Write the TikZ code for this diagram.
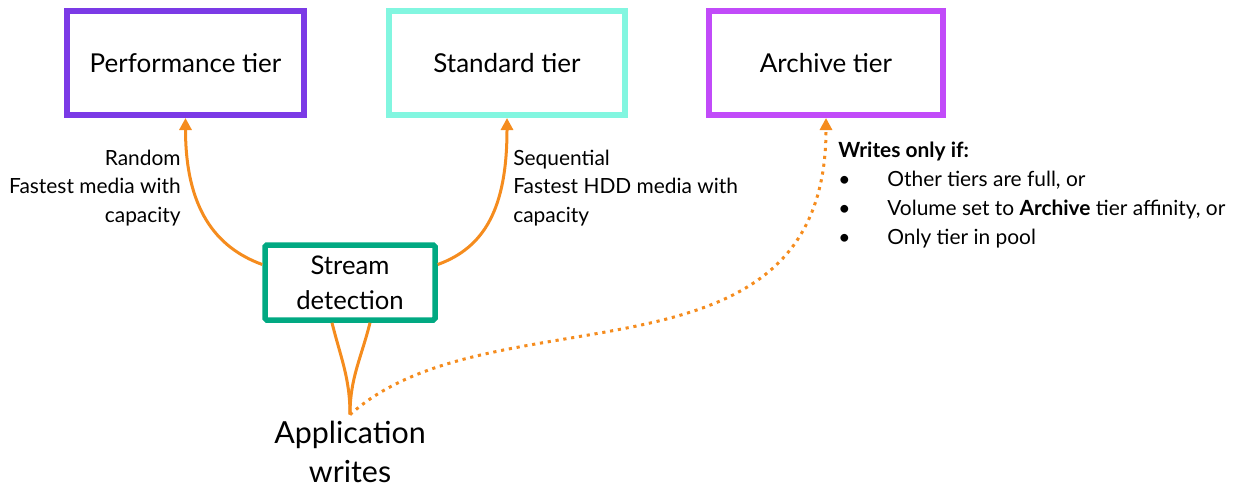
\documentclass[tikz,border=0pt]{standalone}
\usepackage{fontspec}
\setmainfont{Lato}
\usetikzlibrary{arrows.meta,positioning}
\definecolor{perfpurple}{HTML}{7B3AE6}
\definecolor{stdaqua}{HTML}{82F6E0}
\definecolor{archpurple}{HTML}{C14BF9}
\definecolor{streamgreen}{HTML}{01A982}
\definecolor{floworange}{HTML}{F58C1E}
\tikzset{
  tier/.style={draw, line width=0.12cm, minimum height=2.08cm,
               font=\fontsize{14.8}{17}\selectfont},
  detect/.style={draw=streamgreen, line width=0.11cm, rounded corners=1pt,
                 minimum width=3.4cm, minimum height=1.5cm, align=center,
                 inner sep=0pt, font=\fontsize{14.6}{20}\selectfont},
  note/.style={inner sep=0pt, font=\fontsize{11.9}{16.4}\selectfont},
  flow/.style={draw=floworange, line width=0.06cm},
  arrow/.style={flow, -{Triangle[length=2.4mm,width=2.4mm]}}
}

\begin{document}
\begin{tikzpicture}
  \useasboundingbox (0,0) rectangle (24.66,9.8);
  \node[tier, draw=perfpurple, minimum width=4.74cm] (perf) at (3.71,8.54)
    {Performance tier};
  \node[tier, draw=stdaqua, minimum width=4.72cm] (std) at (10.14,8.54)
    {Standard tier};
  \node[tier, draw=archpurple, minimum width=4.68cm] (arch) at (16.52,8.54)
    {Archive tier};
  \node[detect] (sd) at (7.0,4.15) {Stream\\detection};
  \node[align=center, inner sep=0pt, font=\fontsize{17.3}{22.4}\selectfont]
    (app) at (7.0,0.76) {Application\\writes};
  % labels beside the arrows
  \node[note, anchor=east, align=right] (randlbl) at (3.62,6.04)
    {Random\\Fastest media with\\capacity};
  \node[note, anchor=west, align=left] (seqlbl) at (10.26,6.04)
    {Sequential\\Fastest HDD media with\\capacity};
  \node[note, anchor=north west, align=left] (cond) at (16.76,6.96)
    {\textbf{Writes only if:}\\
     \makebox[0.98cm][l]{\textbullet}Other tiers are full, or\\
     \makebox[0.98cm][l]{\textbullet}Volume set to \textbf{Archive} tier affinity, or\\
     \makebox[0.98cm][l]{\textbullet}Only tier in pool};
  % connectors
  \draw[flow] ([yshift=1.2mm]app.north) to[out=90,in=-76] ([xshift=-3.6mm]sd.south);
  \draw[flow] ([yshift=1.2mm]app.north) to[out=90,in=-104] ([xshift=4mm]sd.south);
  \draw[arrow] ([yshift=3.6mm]sd.west) .. controls +(160:1.0) and +(-90:1.8) .. (perf.south);
  \draw[arrow] ([yshift=3.6mm]sd.east) .. controls +(20:1.0) and +(-90:1.8) .. (std.south);
  \draw[arrow, dash pattern=on 1.8pt off 2.7pt] ([yshift=1.2mm]app.north)
    .. controls +(42:3.8) and +(-90:5.6) .. (arch.south);
\end{tikzpicture}
\end{document}
